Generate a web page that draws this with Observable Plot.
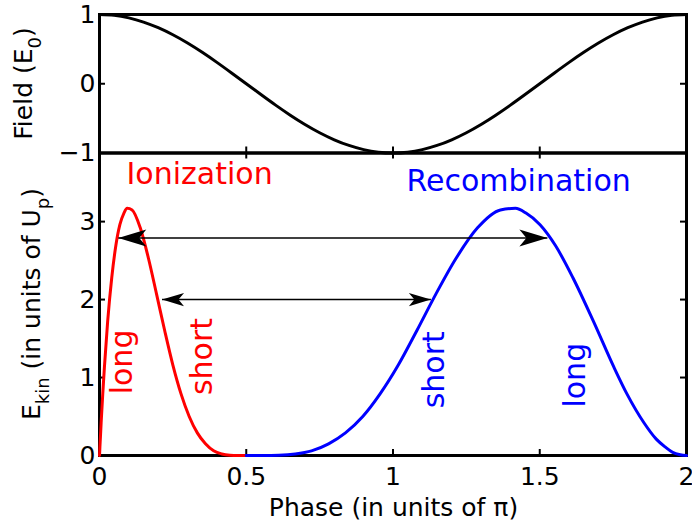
<!DOCTYPE html>
<html><head><meta charset="utf-8">
<script src="https://cdn.jsdelivr.net/npm/d3@7"></script>
<script src="https://cdn.jsdelivr.net/npm/@observablehq/plot@0.6"></script>
<style>
body{margin:0;background:#fff;}
#wrap{position:relative;width:692px;height:528px;overflow:hidden;background:#fff;}
#wrap svg{position:absolute;left:0;top:0;}
</style></head><body><div id="wrap"></div>
<script>
// ---- data ----
const fieldPhase = [0,0.05,0.1,0.15,0.2,0.25,0.3,0.35,0.4,0.45,0.5,0.55,0.6,0.65,0.7,0.75,0.8,0.85,0.9,0.95,1,
  1.05,1.1,1.15,1.2,1.25,1.3,1.35,1.4,1.45,1.5,1.55,1.6,1.65,1.7,1.75,1.8,1.85,1.9,1.95,2];
const fieldValue = [1,0.988,0.951,0.891,0.809,0.707,0.588,0.454,0.309,0.156,0,-0.156,-0.309,-0.454,-0.588,-0.707,-0.809,-0.891,-0.951,-0.988,-1,
  -0.988,-0.951,-0.891,-0.809,-0.707,-0.588,-0.454,-0.309,-0.156,0,0.156,0.309,0.454,0.588,0.707,0.809,0.891,0.951,0.988,1];

const ionPhase  = [0,0.0006,0.0014,0.0028,0.0056,0.0111,0.0167,0.0278,0.0417,0.0556,0.0694,0.0833,0.0944,0.1111,0.1389,0.1667,0.1944,0.2222,0.25,0.2778,0.3056,0.3333,0.3611,0.3889,0.4167,0.4444,0.4722,0.5];
const ionEnergy = [0,0.04,0.11,0.21,0.42,0.79,1.13,1.72,2.28,2.69,2.96,3.11,3.17,3.15,2.92,2.53,2.07,1.60,1.16,0.79,0.50,0.29,0.15,0.06,0.02,0.004,0.0003,0];

const recPhase  = [0.5,0.5556,0.611,0.667,0.7225,0.7805,0.838,0.897,0.956,1.018,1.081,1.146,1.215,1.288,1.366,1.417,1.453,1.501,1.554,1.613,1.683,1.753,1.797,1.855,1.897,1.927,1.953,1.979,2.0];
const recEnergy = [0,0.0003,0.004,0.02,0.06,0.15,0.29,0.50,0.79,1.16,1.60,2.07,2.53,2.92,3.15,3.17,3.11,2.96,2.69,2.28,1.72,1.13,0.79,0.42,0.21,0.11,0.04,0.01,0];

const phaseTicks  = [0,0.5,1,1.5,2];
const fieldTicks  = [-1,0,1];
const energyTicks = [0,1,2,3];

const arrowEnergy = [2.79, 2.0];
const arrowFrom   = [0.064, 0.213];
const arrowTo     = [1.526, 1.129];

const titleText   = ["Ionization","Recombination"];
const titleGroup  = ["ion","rec"];
const titlePhase  = [0.341, 1.428];
const titleEnergy = [3.61, 3.51];

const trajText   = ["long","short","short","long"];
const trajGroup  = ["ion","ion","rec","rec"];
const trajPhase  = [0.079, 0.351, 1.142, 1.622];
const trajEnergy = [1.20, 1.27, 1.10, 1.03];

// ---- build ----
const groupColor = {ion:"#ff0000", rec:"#0000ff"};
const field = fieldPhase.map((p,i)=>({p, v: fieldValue[i]}));
const ion = ionPhase.map((p,i)=>({p, e: ionEnergy[i]}));
const rec = recPhase.map((p,i)=>({p, e: recEnergy[i]}));
const arrows = arrowEnergy.map((e,i)=>({e, x1: arrowFrom[i], x2: arrowTo[i]}));
const titles = titleText.map((t,i)=>({t, g: titleGroup[i], p: titlePhase[i], e: titleEnergy[i]}));
const trajs = trajText.map((t,i)=>({t, g: trajGroup[i], p: trajPhase[i], e: trajEnergy[i]}));

const FONT = '"DejaVu Sans", sans-serif';
const W = 692, ML = 99, MR = 6, IW = W - ML - MR;
const style = {fontFamily: FONT, fontSize: "25px", background: "transparent", overflow: "visible"};
const TL = 6;
const fmt = d => (d < 0 ? "\u2212" : "") + String(Math.abs(d));

const stealth = {draw(ctx, size){
  const r = Math.sqrt(size/Math.PI), hw = 0.3*r, n = 0.75*r;
  ctx.moveTo(0,0); ctx.lineTo(hw, r); ctx.lineTo(0, n); ctx.lineTo(-hw, r); ctx.closePath();
}};

// bottom panel
const bH = 528, bMT = 152.5, bMB = 73, bIH = bH - bMT - bMB;
const bottom = Plot.plot({
  width: W, height: bH, marginLeft: ML, marginRight: MR, marginTop: bMT, marginBottom: bMB,
  style,
  x: {domain: [0,2]},
  y: {domain: [0,3.88]},
  marks: [
    Plot.axisX({ticks: phaseTicks, tickFormat: fmt, tickSize: 0, tickPadding: 12, fontSize: 25, label: null}),
    Plot.axisY({ticks: energyTicks, tickFormat: fmt, tickSize: 0, tickPadding: 4, fontSize: 25, label: null}),
    Plot.tickX(phaseTicks, {insetTop: bIH - TL, strokeWidth: 2}),
    Plot.tickX(phaseTicks, {insetBottom: bIH - TL, strokeWidth: 2}),
    Plot.tickY(energyTicks, {insetRight: IW - TL, strokeWidth: 2}),
    Plot.tickY(energyTicks, {insetLeft: IW - TL, strokeWidth: 2}),
    Plot.frame({strokeWidth: 3}),
    Plot.line(ion, {x: "p", y: "e", stroke: groupColor.ion, strokeWidth: 3, curve: "monotone-x"}),
    Plot.line(rec, {x: "p", y: "e", stroke: groupColor.rec, strokeWidth: 3, curve: "monotone-x"}),
    Plot.link(arrows, {x1: "x1", x2: "x2", y1: "e", y2: "e", stroke: "black", strokeWidth: 1.5}),
    Plot.dot(arrows.slice(0,1), {x: "x1", y: "e", r: 28, symbol: stealth, rotate: -90, fill: "black", stroke: "none"}),
    Plot.dot(arrows.slice(0,1), {x: "x2", y: "e", r: 28, symbol: stealth, rotate: 90, fill: "black", stroke: "none"}),
    Plot.dot(arrows.slice(1,2), {x: "x1", y: "e", r: 22, symbol: stealth, rotate: -90, fill: "black", stroke: "none"}),
    Plot.dot(arrows.slice(1,2), {x: "x2", y: "e", r: 22, symbol: stealth, rotate: 90, fill: "black", stroke: "none"}),
    Plot.text(titles, {x: "p", y: "e", text: "t", fill: d => groupColor[d.g], fontSize: 30}),
    Plot.text(trajs, {x: "p", y: "e", text: "t", fill: d => groupColor[d.g], fontSize: 30, rotate: -90})
  ]
});

// top panel
const tH = 170, tMT = 14, tMB = 17.5, tIH = tH - tMT - tMB;
const topPlot = Plot.plot({
  width: W, height: tH, marginLeft: ML, marginRight: MR, marginTop: tMT, marginBottom: tMB,
  style,
  x: {domain: [0,2], axis: null},
  y: {domain: [-1,1]},
  marks: [
    Plot.axisY({ticks: fieldTicks, tickFormat: fmt, tickSize: 0, tickPadding: 4, fontSize: 25, label: null}),
    Plot.tickX(phaseTicks, {insetTop: tIH - TL, strokeWidth: 2}),
    Plot.tickY(fieldTicks, {insetRight: IW - TL, strokeWidth: 2}),
    Plot.tickY(fieldTicks, {insetLeft: IW - TL, strokeWidth: 2}),
    Plot.frame({strokeWidth: 3}),
    Plot.line(field, {x: "p", y: "v", stroke: "black", strokeWidth: 3, curve: "natural"})
  ]
});

const wrap = document.getElementById("wrap");
wrap.appendChild(bottom);
wrap.appendChild(topPlot);

// axis titles with subscripts
const ov = d3.select(wrap).append("svg").attr("width", W).attr("height", 528)
  .style("font-family", FONT).style("font-size", "25px");
function rotLabel(x, y, parts){
  const t = ov.append("text").attr("transform", `translate(${x},${y}) rotate(-90)`).attr("text-anchor", "middle");
  let shift = 0;
  for (const [s, sub] of parts){
    const target = sub ? 9 : 0;
    const ts = t.append("tspan").attr("dy", target - shift).text(s);
    if (sub) ts.attr("font-size", 18);
    shift = target;
  }
}
rotLabel(32, 83.5, [["Field (E",false],["0",true],[")",false]]);
rotLabel(40, 304, [["E",false],["kin",true],[" (in units of U",false],["p",true],[")",false]]);
ov.append("text").attr("x", 393.5).attr("y", 516).attr("text-anchor", "middle").text("Phase (in units of π)");
</script></body></html>
